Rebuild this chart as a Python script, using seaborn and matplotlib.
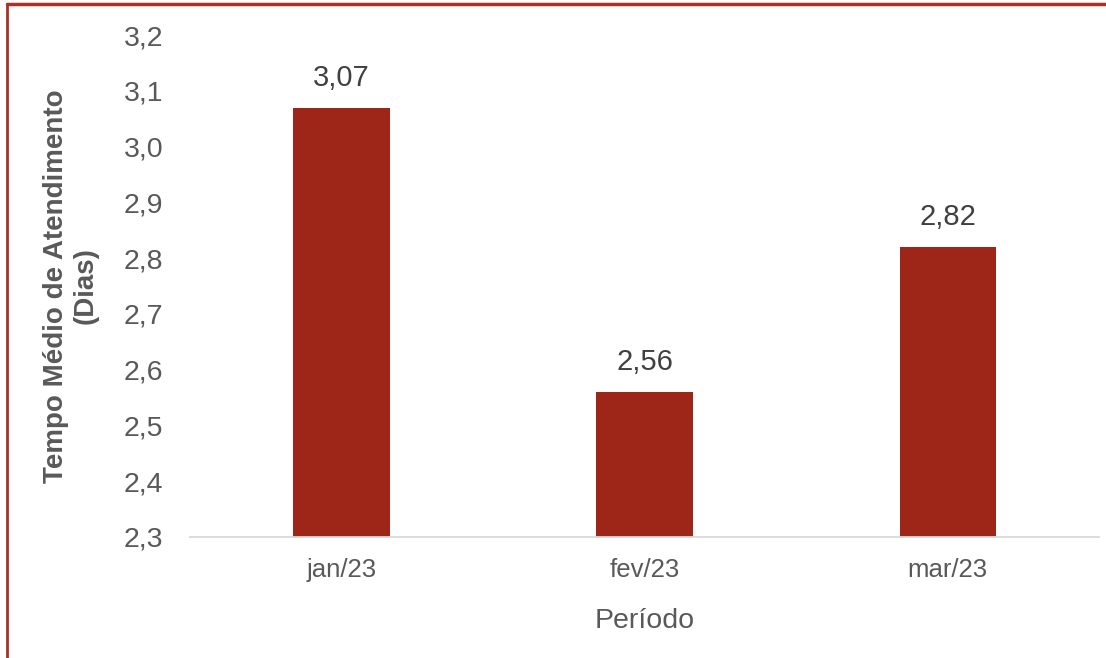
import matplotlib
matplotlib.use("Agg")
import matplotlib.pyplot as plt
from matplotlib.lines import Line2D
import seaborn as sns
import pandas as pd

categories = ["jan/23", "fev/23", "mar/23"]
values = [3.07, 2.56, 2.82]
y_ticks = [2.3, 2.4, 2.5, 2.6, 2.7, 2.8, 2.9, 3.0, 3.1, 3.2]

sns.set_style("white")
plt.rcParams["font.family"] = ["Liberation Sans", "DejaVu Sans"]

df = pd.DataFrame({"Período": categories, "Tempo": values})

fig = plt.figure(figsize=(11.06, 6.58), dpi=100)
ax = fig.add_axes([0.1718, 0.1839, 0.8219, 0.7629])

bar_color = "#9E2618"
sns.barplot(data=df, x="Período", y="Tempo", color=bar_color, width=0.317,
            saturation=1, ax=ax, edgecolor="none")

ax.set_ylim(2.3, 3.2)
ax.set_xlim(-0.5, 2.5)
ax.set_yticks(y_ticks)
ax.set_yticklabels([f"{v:.1f}".replace(".", ",") for v in y_ticks])

for c in ax.containers:
    ax.bar_label(c, labels=[f"{v:.2f}".replace(".", ",") for v in values],
                 padding=11.5, fontsize=21, color="#404040")

for s in ["top", "right", "left"]:
    ax.spines[s].set_visible(False)
ax.spines["bottom"].set_color("#D9D9D9")
ax.spines["bottom"].set_linewidth(1.3)

ax.tick_params(axis="y", length=0, pad=19, labelsize=20.5, labelcolor="#595959")
ax.tick_params(axis="x", length=0, pad=15, labelsize=18.5, labelcolor="#595959")

ax.set_xlabel("Período", fontsize=20.5, color="#595959", labelpad=19)
ax.set_ylabel("Tempo Médio de Atendimento\n(Dias)", fontsize=20, fontweight="bold",
              color="#595959", labelpad=18, linespacing=1.2)

border_color = "#A93226"
fig.add_artist(Line2D([7 / 1106, 7 / 1106], [0, 1 - 4 / 658], transform=fig.transFigure,
                      color=border_color, linewidth=2))
fig.add_artist(Line2D([7 / 1106, 1], [1 - 4 / 658, 1 - 4 / 658], transform=fig.transFigure,
                      color=border_color, linewidth=2.5))

fig.savefig("out.png", dpi=100)
